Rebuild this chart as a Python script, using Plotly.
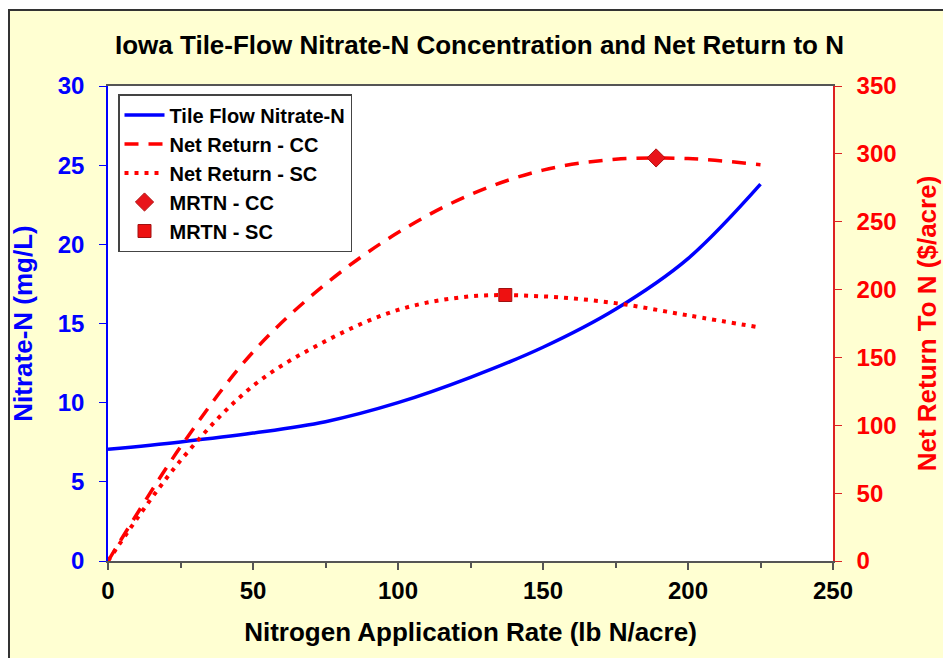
import plotly.graph_objects as go

# Data
n_rate = [0, 25, 50, 75, 100, 125, 150, 175, 200, 225]
nitrate_n = [7.05, 7.52, 8.08, 8.8, 10.0, 11.6, 13.5, 15.9, 19.1, 23.8]
net_cc = [0, 84, 154, 204, 242, 270, 288, 296, 296.5, 292]
net_sc = [0, 74, 129, 162, 185, 195, 195, 190, 181, 172]
mrtn_cc_x = [189]
mrtn_cc_y = [297]
mrtn_sc_x = [137]
mrtn_sc_y = [196]

FONT = "Liberation Sans, Arial, sans-serif"
BLUE = "#0000FF"
RED = "#FF0000"

# page has an 8px body margin, so figure coords = page coords - 8
W, H = 943, 650
L, R, T, B = 100, 943 - 825, 78, 650 - 553
PW, PH = W - L - R, H - T - B

def px_x(fx):
    return (fx - L) / PW

def px_y(fy):
    return (H - B - fy) / PH

fig = go.Figure()
fig.add_trace(go.Scatter(x=n_rate, y=nitrate_n, name="Tile Flow Nitrate-N", mode="lines",
                         line=dict(color=BLUE, width=3.5, shape="spline"), yaxis="y"))
fig.add_trace(go.Scatter(x=n_rate, y=net_cc, name="Net Return - CC", mode="lines",
                         line=dict(color=RED, width=3.5, dash="14px,10px", shape="spline"), yaxis="y2"))
fig.add_trace(go.Scatter(x=n_rate, y=net_sc, name="Net Return - SC", mode="lines",
                         line=dict(color=RED, width=4, dash="4px,6px", shape="spline"), yaxis="y2"))
fig.add_trace(go.Scatter(x=mrtn_cc_x, y=mrtn_cc_y, name="MRTN - CC", mode="markers",
                         marker=dict(symbol="diamond", size=14, color="#E8141A",
                                     line=dict(color="#B01010", width=1)), yaxis="y2"))
fig.add_trace(go.Scatter(x=mrtn_sc_x, y=mrtn_sc_y, name="MRTN - SC", mode="markers",
                         marker=dict(symbol="square", size=13, color="#EE1111",
                                     line=dict(color="#A01010", width=1)), yaxis="y2"))

fig.update_layout(
    width=W, height=H,
    margin=dict(l=L, r=R, t=T, b=B),
    paper_bgcolor="white",
    plot_bgcolor="white",
    font=dict(family=FONT, size=18, color="black"),
    title=dict(text="Iowa Tile-Flow Nitrate-N Concentration and Net Return to N",
               x=0.5, xanchor="center", xref="container",
               y=1 - 37 / H, yanchor="middle", yref="container",
               font=dict(family=FONT, size=26, color="black", weight="bold")),
    xaxis=dict(range=[0, 250], dtick=50, tick0=0, showgrid=False, zeroline=False,
               showline=True, linecolor="#555555", linewidth=2, mirror=True,
               ticks="outside", ticklen=7, tickcolor="#555555", tickwidth=1.5,
               minor=dict(dtick=25, ticks="outside", ticklen=5, tickcolor="#555555", tickwidth=1.5),
               tickfont=dict(family=FONT, size=24, color="black", weight="bold"),
               title=dict(text="Nitrogen Application Rate (lb N/acre)", standoff=20,
                          font=dict(family=FONT, size=26, color="black", weight="bold"))),
    yaxis=dict(range=[0, 30], dtick=5, showgrid=False, zeroline=False,
               showline=True, linecolor=BLUE, linewidth=1.5,
               ticks="outside", ticklen=7, tickcolor=BLUE, ticklabelstandoff=10,
               tickfont=dict(family=FONT, size=24, color=BLUE, weight="bold"),
               title=dict(text="Nitrate-N (mg/L)", standoff=20,
                          font=dict(family=FONT, size=26, color=BLUE, weight="bold"))),
    yaxis2=dict(range=[0, 350], dtick=50, overlaying="y", side="right",
                showgrid=False, zeroline=False,
                showline=True, linecolor="#DD2222", linewidth=1.5,
                ticks="outside", ticklen=7, tickcolor="#DD2222", ticklabelstandoff=10,
                tickfont=dict(family=FONT, size=24, color=RED, weight="bold"),
                title=dict(text="Net Return To N ($/acre)", standoff=22,
                           font=dict(family=FONT, size=26, color=RED, weight="bold"))),
    legend=dict(x=px_x(118 - 8), y=px_y(94 - 8), xanchor="left", yanchor="top",
                bgcolor="white", bordercolor="#444444", borderwidth=1.5,
                font=dict(family=FONT, size=20, color="black", weight="bold"),
                itemwidth=40, tracegroupgap=0),
    showlegend=True,
    shapes=[
        dict(type="rect", xref="paper", yref="paper", layer="below",
             x0=px_x(1), x1=px_x(938),
             y0=px_y(700), y1=px_y(2),
             fillcolor="#FFFFD2", line=dict(color="#333333", width=2)),
        dict(type="rect", xref="paper", yref="paper", layer="below",
             x0=0, x1=1, y0=0, y1=1, fillcolor="white", line=dict(width=0)),
    ],
)

fig.write_html("out.html")
